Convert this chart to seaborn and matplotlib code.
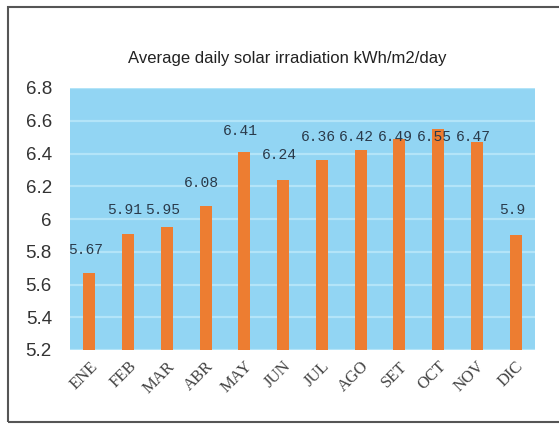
import matplotlib
matplotlib.use("Agg")
import matplotlib.pyplot as plt
import seaborn as sns
import pandas as pd
from matplotlib.patches import Rectangle

months = ["ENE", "FEB", "MAR", "ABR", "MAY", "JUN", "JUL", "AGO", "SET", "OCT", "NOV", "DIC"]
values = [5.67, 5.91, 5.95, 6.08, 6.41, 6.24, 6.36, 6.42, 6.49, 6.55, 6.47, 5.9]
label_texts = ["5.67", "5.91", "5.95", "6.08", "6.41", "6.24", "6.36", "6.42", "6.49", "6.55", "6.47", "5.9"]
# vertical position of each value label (as drawn in the original)
label_y = [5.81, 6.055, 6.055, 6.22, 6.54, 6.39, 6.50, 6.50, 6.50, 6.50, 6.50, 6.055]
yticks = [5.2, 5.4, 5.6, 5.8, 6.0, 6.2, 6.4, 6.6, 6.8]
ytick_labels = ["5.2", "5.4", "5.6", "5.8", "6", "6.2", "6.4", "6.6", "6.8"]

df = pd.DataFrame({"month": months, "value": values})

sns.set_theme(style="white")
plt.rcParams["font.family"] = ["Liberation Sans", "DejaVu Sans"]

fig = plt.figure(figsize=(5.59, 4.26), dpi=100)
ax = fig.add_axes([70 / 559, 1 - 350 / 426, 465 / 559, 262 / 426])
ax.set_facecolor("#92d5f3")

sns.barplot(data=df, x="month", y="value", color="#ed7d31", width=0.31,
            saturation=1, ax=ax, zorder=3, linewidth=0, edgecolor="none")
ax.set_ylim(5.2, 6.8)
ax.set_yticks(yticks)
ax.set_yticklabels(ytick_labels)
ax.set_xlim(-0.5, len(months) - 0.5)
ax.yaxis.grid(True, color="#b3e4f8", linewidth=1.6, zorder=0)
ax.set_axisbelow(True)
for s in ax.spines.values():
    s.set_visible(False)
ax.set_xlabel("")
ax.set_ylabel("")
ax.tick_params(axis="y", length=0, pad=13, labelsize=13.5, labelcolor="#333333")
ax.tick_params(axis="x", length=0, pad=6)
for lab in ax.get_xticklabels():
    lab.set_rotation(45)
    lab.set_ha("right")
    lab.set_va("top")
    lab.set_rotation_mode("anchor")
    lab.set_fontfamily("Liberation Serif")
    lab.set_fontsize(12)
    lab.set_color("#444444")

for i, (t, yy) in enumerate(zip(label_texts, label_y)):
    ax.text(i - 0.1, yy, t, ha="center", va="center", fontsize=10.5,
            family="Liberation Mono", color="#2a3a4a", zorder=4)

fig.text(0.513, 1 - 58 / 426, "Average daily solar irradiation kWh/m2/day",
         ha="center", va="center", fontsize=12, color="#222222")

fig.patches.append(Rectangle((8 / 559, 1 - 422 / 426), 1.0, 415 / 426,
                             transform=fig.transFigure, fill=False,
                             edgecolor="#555555", linewidth=1.5))

fig.savefig("out.png", dpi=100)
